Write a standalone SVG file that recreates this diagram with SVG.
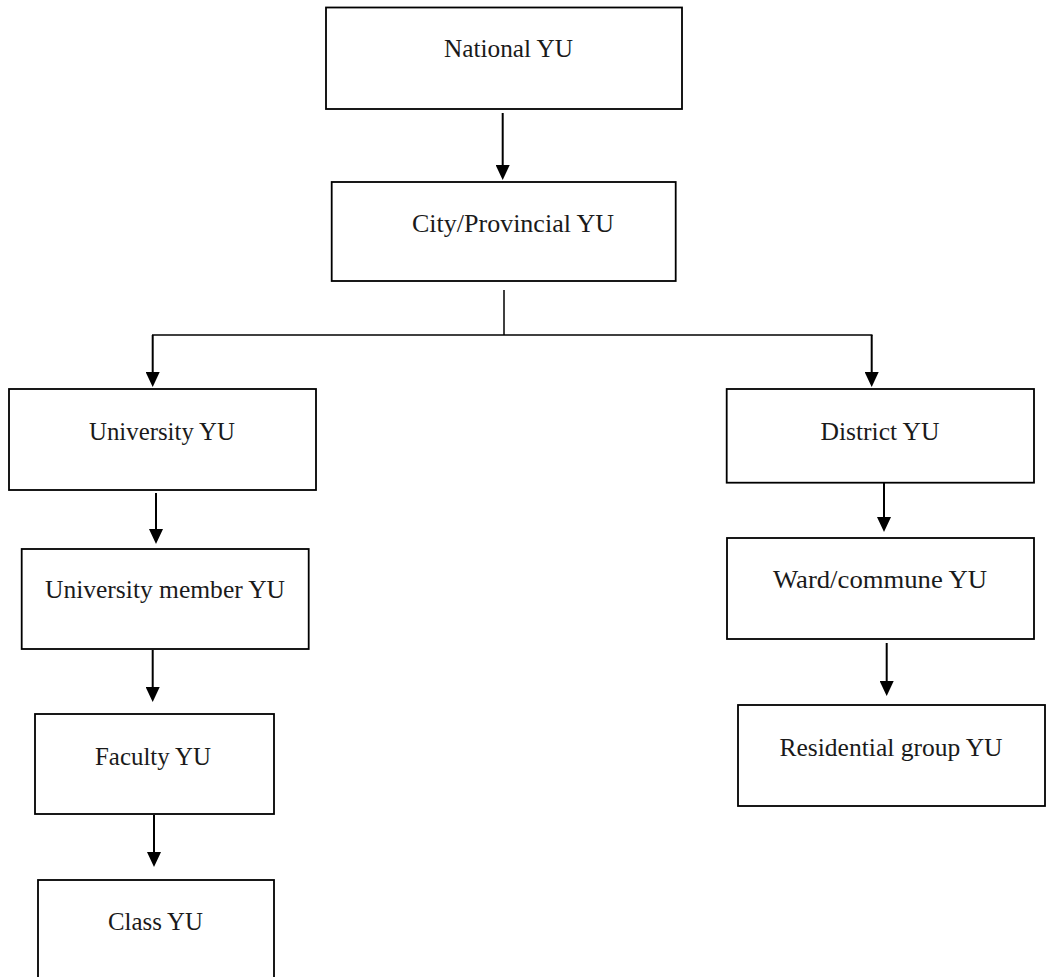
<svg xmlns="http://www.w3.org/2000/svg" width="1048" height="977" viewBox="0 0 1048 977">
  <style>
    .box { fill: #ffffff; stroke: #000000; stroke-width: 1.8; }
    .lbl { font-family: "Liberation Serif", "Times New Roman", serif; font-size: 25px; fill: #1a1a1a; text-anchor: middle; }
    .arrow { fill: none; stroke: #000000; stroke-width: 2; marker-end: url(#head); }
    .plain { fill: none; stroke: #000000; stroke-width: 1.5; }
  </style>
  <defs>
    <marker id="head" markerUnits="userSpaceOnUse" markerWidth="15" markerHeight="14" viewBox="0 0 15 14" refX="11" refY="7" orient="auto">
      <path d="M0,0 L15,7 L0,14 z" fill="#000000"/>
    </marker>
  </defs>
  <rect width="1048" height="977" fill="#ffffff"/>

  <g id="connectors">
    <line class="arrow" x1="502.7" y1="113" x2="502.7" y2="176"/>
    <line class="plain" x1="504" y1="290" x2="504" y2="335"/>
    <line class="plain" x1="152" y1="335" x2="872.5" y2="335"/>
    <line class="arrow" x1="152.7" y1="335" x2="152.7" y2="383"/>
    <line class="arrow" x1="871.7" y1="335" x2="871.7" y2="383"/>
    <line class="arrow" x1="156" y1="493" x2="156" y2="540"/>
    <line class="arrow" x1="152.7" y1="650" x2="152.7" y2="698"/>
    <line class="arrow" x1="154" y1="815" x2="154" y2="863"/>
    <line class="arrow" x1="884" y1="480" x2="884" y2="528"/>
    <line class="arrow" x1="886.7" y1="643" x2="886.7" y2="692"/>
  </g>

  <g id="national">
    <rect class="box" x="326" y="7.5" width="356" height="101.5"/>
    <text class="lbl" x="508.5" y="57" textLength="129" lengthAdjust="spacingAndGlyphs">National YU</text>
  </g>
  <g id="city">
    <rect class="box" x="331.7" y="182" width="344" height="99"/>
    <text class="lbl" x="513" y="232" textLength="202" lengthAdjust="spacingAndGlyphs">City/Provincial YU</text>
  </g>
  <g id="university">
    <rect class="box" x="9" y="389" width="307" height="101"/>
    <text class="lbl" x="162" y="440" textLength="146" lengthAdjust="spacingAndGlyphs">University YU</text>
  </g>
  <g id="university-member">
    <rect class="box" x="21.7" y="549" width="287" height="100"/>
    <text class="lbl" x="165" y="598" textLength="240" lengthAdjust="spacingAndGlyphs">University member YU</text>
  </g>
  <g id="faculty">
    <rect class="box" x="35" y="714" width="239" height="100"/>
    <text class="lbl" x="153" y="765" textLength="116" lengthAdjust="spacingAndGlyphs">Faculty YU</text>
  </g>
  <g id="class">
    <rect class="box" x="38" y="880" width="236" height="110"/>
    <text class="lbl" x="155.5" y="930" textLength="95" lengthAdjust="spacingAndGlyphs">Class YU</text>
  </g>
  <g id="district">
    <rect class="box" x="726.7" y="389" width="307.3" height="93.7"/>
    <text class="lbl" x="880" y="440" textLength="119" lengthAdjust="spacingAndGlyphs">District YU</text>
  </g>
  <g id="ward">
    <rect class="box" x="727" y="538" width="307" height="101"/>
    <text class="lbl" x="880" y="588" textLength="214" lengthAdjust="spacingAndGlyphs">Ward/commune YU</text>
  </g>
  <g id="residential">
    <rect class="box" x="738" y="705" width="307" height="101"/>
    <text class="lbl" x="891" y="756" textLength="223" lengthAdjust="spacingAndGlyphs">Residential group YU</text>
  </g>
</svg>
